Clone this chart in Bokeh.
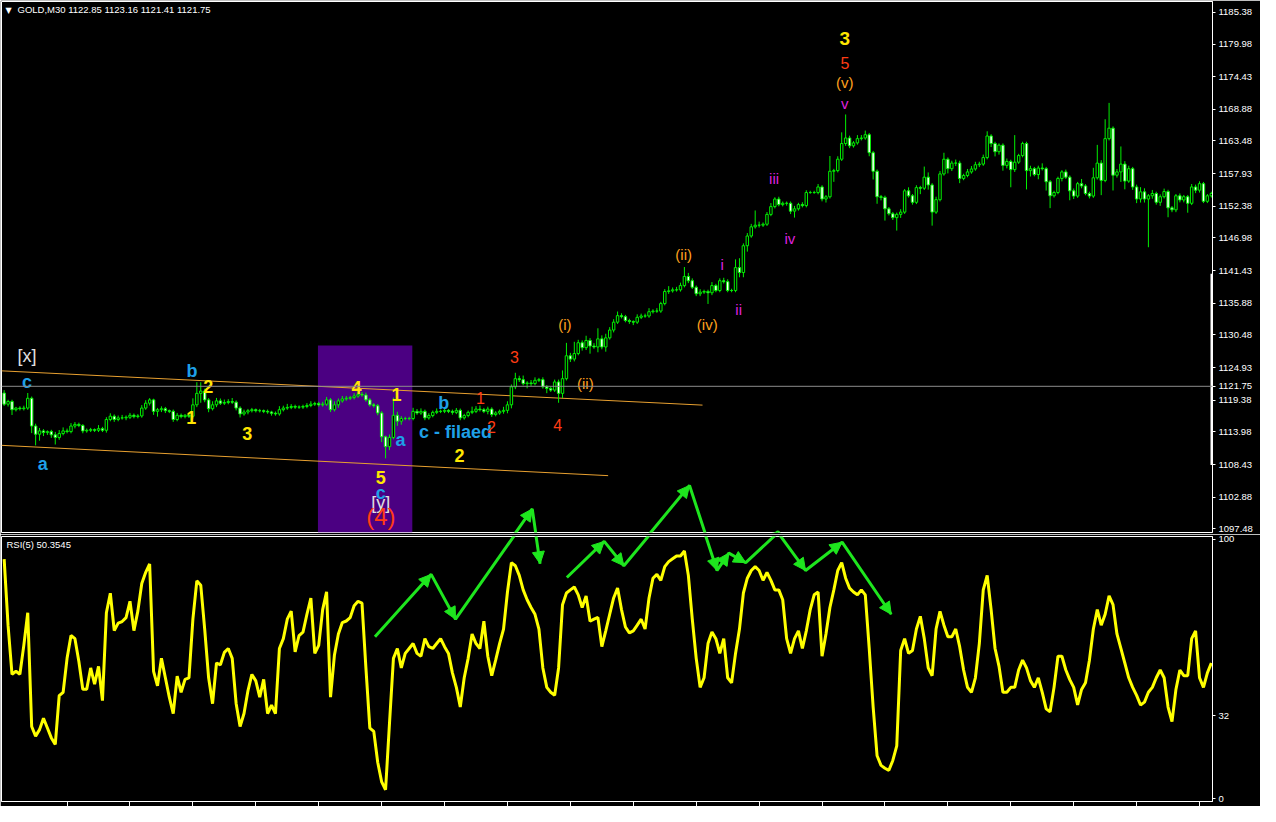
import numpy as np
from bokeh.plotting import figure
from bokeh.models import (FixedTicker, Span, Label, Arrow, NormalHead, ColumnDataSource,
                          Range1d, PrintfTickFormatter, BoxAnnotation)
from bokeh.layouts import column
from bokeh.embed import file_html
from bokeh.resources import INLINE
from bokeh.core.properties import value

# ---------------- data ----------------
title_text = "GOLD,M30  1122.85 1123.16 1121.41 1121.75"
rsi_title = "RSI(5) 50.3545"
current_price = 1121.75
first_open = 1120.60

closes = [
    1118.71, 1119.16, 1117.77, 1118.05, 1117.94, 1118.05, 1119.71, 1114.99, 1113.60, 1114.16,
    1113.88, 1114.05, 1113.49, 1113.05, 1113.71, 1114.16, 1114.05, 1114.99, 1115.27, 1115.10,
    1114.16, 1114.27, 1114.38, 1114.27, 1114.55, 1114.27, 1116.10, 1116.66, 1116.10, 1116.38,
    1116.38, 1116.49, 1116.82, 1116.60, 1116.71, 1118.05, 1118.88, 1119.44, 1117.49, 1117.77,
    1117.94, 1117.60, 1117.49, 1116.10, 1116.82, 1116.60, 1116.82, 1116.66, 1118.60, 1120.55,
    1120.94, 1119.44, 1117.94, 1118.60, 1119.27, 1118.88, 1118.99, 1119.16, 1119.05, 1118.05,
    1117.05, 1117.38, 1117.60, 1117.77, 1117.60, 1117.60, 1117.49, 1117.38, 1117.16, 1117.05,
    1117.77, 1118.05, 1118.16, 1118.32, 1118.21, 1118.21, 1118.32, 1118.49, 1118.71, 1118.82,
    1118.60, 1118.71, 1119.44, 1117.77, 1118.60, 1119.27, 1119.60, 1119.71, 1119.82, 1120.10,
    1120.38, 1120.27, 1119.44, 1118.60, 1118.44, 1117.21, 1113.16, 1111.49, 1113.05, 1116.82,
    1115.82, 1116.27, 1116.27, 1116.27, 1117.49,
    1117.21, 1117.49, 1116.38, 1116.77, 1117.32, 1117.49, 1117.49, 1117.66, 1117.49, 1117.32,
    1117.66, 1116.38, 1116.77, 1117.32, 1117.49, 1117.88, 1117.77, 1117.49, 1117.88, 1116.94,
    1117.21, 1117.49, 1117.66, 1118.60, 1121.66, 1123.05, 1122.88, 1122.21, 1122.32, 1122.21,
    1122.77, 1122.88, 1121.66, 1121.38, 1121.10, 1122.49, 1120.55, 1123.05, 1126.94, 1126.38,
    1127.32, 1129.16, 1128.32, 1129.55, 1128.60, 1128.44, 1129.82, 1128.44, 1129.99, 1131.32,
    1132.66, 1133.77, 1133.60, 1132.94, 1132.77, 1132.66, 1133.49, 1133.71, 1133.71, 1134.44,
    1134.55, 1134.55, 1135.82, 1137.88, 1137.99, 1138.16, 1138.16, 1138.88, 1140.44, 1139.71,
    1138.60, 1137.49, 1137.77, 1137.88, 1137.66, 1138.88, 1138.05, 1139.71, 1139.55, 1138.05,
    1138.05, 1141.94, 1141.10, 1145.66, 1147.32, 1148.88, 1149.16, 1149.16, 1149.32, 1150.99,
    1152.32, 1153.60, 1152.66, 1152.88, 1152.88, 1151.55, 1151.94, 1152.66, 1152.49, 1154.71,
    1154.71, 1154.71,
    1155.66, 1153.61, 1153.99, 1158.33, 1158.44, 1160.38, 1163.05, 1163.99, 1162.66, 1163.16,
    1163.88, 1163.99, 1164.55, 1161.49, 1158.33, 1154.00, 1153.88, 1151.94, 1151.11, 1150.44,
    1151.00, 1151.38, 1155.00, 1154.16, 1153.05, 1155.55, 1155.44, 1157.33, 1156.00, 1151.38,
    1153.50, 1157.88, 1160.38, 1158.77, 1159.72, 1159.72, 1157.11, 1157.61, 1158.22, 1158.72,
    1159.44, 1159.55, 1160.66, 1164.33, 1163.05, 1161.66, 1162.77, 1159.33, 1160.00, 1158.61,
    1159.88, 1161.00, 1163.05, 1158.44, 1158.77, 1157.77, 1158.88, 1158.77, 1156.55, 1154.16,
    1154.72, 1157.11, 1158.22, 1157.33, 1155.00, 1154.11, 1156.22, 1155.83, 1154.55, 1154.11,
    1157.22, 1159.72, 1156.77, 1163.88, 1165.66, 1157.66, 1158.22, 1159.55, 1156.66, 1158.77,
    1155.66, 1153.61, 1154.83, 1153.61, 1154.16, 1154.55, 1153.05, 1154.00, 1154.88, 1152.11,
    1151.77, 1154.16, 1153.44, 1154.00, 1152.88, 1155.66, 1155.11, 1156.22, 1153.22, 1154.16,
    1154.55,
]

wick_up = [
    0.5, 0.3, 0.3, 0.2, 0.3, 0.4, 0.9, 0.3, 0.4, 0.5, 0.3, 0.2, 0.3, 0.5, 0.6, 0.6, 0.4, 0.5, 0.4, 0.3,
    0.2, 0.3, 0.3, 0.2, 0.6, 0.3, 0.4, 0.5, 0.3, 0.4, 0.5, 0.3, 0.4, 0.3, 0.3, 0.5, 0.5, 0.3, 0.2, 0.3,
    0.4, 0.3, 0.2, 0.3, 0.4, 0.3, 0.2, 0.3, 1.1, 1.9, 1.5, 0.4, 0.3, 0.6, 0.5, 0.4, 0.5, 0.4, 0.6, 0.3,
    0.3, 0.4, 0.3, 0.3, 0.2, 0.3, 0.2, 0.3, 0.2, 0.3, 0.6, 0.4, 0.6, 0.4, 0.3, 0.3, 0.3, 0.4, 0.5, 0.3,
    0.3, 0.4, 0.5, 0.3, 0.6, 0.4, 0.5, 0.4, 0.3, 0.5, 0.3, 0.4, 0.4, 0.3, 0.3, 0.3, 0.3, 0.2, 0.5, 3.0,
    0.6, 0.4, 0.3, 0.3, 0.6,
    0.4, 0.5, 0.3, 0.4, 0.3, 0.5, 0.3, 0.3, 0.2, 0.3, 0.4, 0.3, 0.3, 0.3, 0.8, 0.5, 0.6, 0.3, 0.4, 0.3,
    0.3, 0.3, 0.6, 0.6, 0.4, 1.0, 0.5, 0.7, 0.3, 0.5, 0.5, 0.3, 0.4, 0.3, 0.3, 0.4, 0.4, 1.4, 2.2, 0.5,
    2.0, 0.5, 0.4, 0.8, 0.4, 0.5, 1.8, 0.6, 0.7, 0.5, 0.5, 0.7, 0.4, 0.3, 0.3, 0.2, 0.5, 0.4, 0.4, 0.6,
    0.3, 0.5, 0.3, 0.4, 0.8, 0.4, 0.5, 0.5, 1.6, 0.6, 0.4, 0.3, 0.5, 0.3, 0.3, 0.6, 0.3, 0.4, 0.5, 0.4,
    0.3, 1.4, 1.6, 0.4, 0.5, 0.5, 2.5, 0.6, 0.3, 0.4, 0.6, 0.3, 0.4, 0.3, 0.3, 0.3, 0.5, 0.3, 0.4, 0.4,
    0.3, 0.3,
    0.5, 0.3, 0.3, 2.6, 0.3, 0.5, 1.9, 4.0, 0.4, 0.3, 0.6, 0.5, 0.7, 0.3, 0.3, 0.3, 0.3, 0.3, 0.3, 0.3,
    0.3, 0.5, 0.3, 0.6, 0.3, 0.4, 0.3, 1.8, 0.8, 0.3, 0.5, 0.5, 1.1, 0.3, 0.4, 0.6, 0.4, 0.3, 0.5, 0.5,
    0.5, 0.4, 0.5, 0.8, 0.3, 0.3, 0.3, 0.3, 0.5, 0.3, 4.6, 0.3, 0.3, 0.3, 0.5, 0.3, 0.4, 0.8, 0.3, 0.3,
    0.3, 0.3, 0.3, 0.4, 0.3, 0.4, 0.3, 0.8, 0.3, 0.3, 1.7, 3.1, 0.5, 3.3, 4.3, 0.3, 0.5, 3.0, 0.5, 0.5,
    0.3, 0.4, 0.8, 0.6, 0.3, 0.6, 0.3, 0.4, 0.5, 0.3, 0.3, 0.3, 0.4, 0.3, 0.3, 0.5, 0.4, 0.4, 0.3, 0.3,
    0.3,
]

wick_dn = [
    0.3, 0.4, 0.9, 0.3, 0.3, 0.3, 0.3, 1.2, 1.9, 1.1, 0.6, 0.4, 0.5, 1.2, 0.4, 0.3, 0.3, 0.3, 0.4, 0.3,
    0.4, 0.3, 0.3, 0.3, 0.3, 0.3, 0.4, 0.3, 0.4, 0.3, 0.3, 0.4, 0.3, 0.3, 0.3, 0.3, 0.3, 0.4, 0.6, 0.9,
    0.4, 0.4, 0.3, 0.4, 0.3, 0.3, 0.3, 0.3, 0.4, 0.4, 1.6, 0.4, 0.6, 0.3, 0.4, 0.3, 0.3, 0.3, 0.3, 0.4,
    0.6, 0.3, 0.4, 0.3, 0.3, 0.3, 0.3, 0.3, 0.4, 0.3, 0.3, 0.3, 0.3, 0.3, 0.3, 0.3, 0.3, 0.3, 0.3, 0.3,
    0.3, 0.3, 0.3, 0.4, 0.3, 0.5, 0.3, 0.3, 0.3, 0.3, 0.3, 0.3, 0.3, 0.3, 0.3, 0.4, 0.9, 2.0, 0.6, 0.3,
    0.8, 0.6, 0.3, 0.3, 0.3,
    0.3, 0.3, 0.4, 0.3, 0.3, 0.3, 0.3, 0.3, 0.3, 0.4, 0.3, 0.4, 0.3, 0.3, 0.3, 0.3, 0.3, 0.3, 0.5, 0.4,
    0.3, 0.3, 0.4, 0.5, 0.6, 0.4, 0.4, 0.3, 0.8, 0.4, 0.3, 0.3, 0.3, 0.8, 0.3, 0.3, 1.6, 0.8, 0.3, 0.5,
    0.4, 0.3, 0.5, 0.4, 1.3, 0.3, 0.9, 0.4, 0.8, 0.3, 0.4, 0.3, 0.3, 0.3, 0.4, 0.5, 0.3, 0.3, 0.3, 0.3,
    0.3, 0.3, 0.3, 0.3, 0.4, 0.3, 0.3, 0.3, 0.3, 0.4, 0.3, 0.4, 0.4, 0.3, 1.9, 0.4, 0.3, 0.3, 0.3, 0.3,
    0.3, 0.3, 0.8, 0.8, 1.0, 0.3, 0.3, 0.4, 0.3, 0.3, 0.3, 0.3, 0.3, 0.3, 0.4, 0.5, 1.1, 0.3, 0.3, 0.3,
    0.2, 0.2,
    0.3, 0.4, 0.6, 0.3, 1.8, 0.3, 0.3, 0.4, 0.4, 0.3, 0.3, 0.3, 0.3, 0.6, 1.4, 1.2, 0.5, 2.0, 0.3, 0.4,
    2.2, 0.6, 0.3, 0.3, 0.4, 0.3, 1.0, 0.3, 0.8, 2.3, 0.3, 0.3, 0.3, 0.8, 0.4, 0.5, 0.8, 0.3, 0.3, 0.3,
    0.3, 0.4, 0.3, 0.3, 0.6, 0.8, 0.5, 0.9, 0.5, 3.0, 0.4, 0.3, 0.3, 3.2, 1.0, 0.3, 0.8, 0.3, 1.5, 2.1,
    0.3, 0.3, 0.5, 0.3, 1.6, 0.5, 0.3, 0.4, 0.3, 0.4, 0.3, 0.3, 2.5, 0.3, 0.3, 2.6, 0.4, 1.7, 1.4, 0.3,
    0.5, 0.7, 0.6, 0.6, 8.2, 0.5, 0.4, 0.6, 0.3, 1.6, 0.4, 0.4, 0.4, 0.4, 1.6, 0.3, 0.5, 0.4, 0.3, 0.3,
    0.3,
]

rsi = [
    92.4, 66.7, 47.9, 49.1, 47.9, 59.1, 71.7, 27.8, 24.1, 26.6,
    31.0, 27.2, 23.4, 20.9, 39.7, 41.0, 54.1, 62.9, 61.7, 52.9,
    42.2, 42.2, 50.4, 44.1, 51.0, 37.8, 71.7, 79.2, 64.8, 67.7,
    68.3, 69.8, 76.1, 64.8, 72.3, 83.0, 87.3, 90.5, 49.1, 43.5,
    54.1, 46.6, 39.1, 32.8, 47.2, 41.0, 46.0, 46.6, 69.2, 84.0,
    82.3, 65.4, 46.6, 36.6, 52.3, 51.6, 56.4, 57.9, 54.1, 36.6,
    27.8, 32.8, 41.6, 47.9, 45.4, 39.1, 46.0, 32.8, 36.0, 32.8,
    57.9, 61.7, 69.2, 72.3, 56.6, 62.9, 64.2, 71.1, 77.3, 56.0,
    59.1, 72.9, 79.8, 39.1, 55.4, 63.5, 67.9, 68.5, 69.8, 74.4,
    76.1, 75.4, 50.4, 27.2, 25.9, 14.0, 6.5, 3.4, 29.1, 54.1,
    57.9, 50.4, 56.0, 57.9, 59.8, 56.0, 54.9, 61.7, 58.6, 57.9,
    59.8, 61.7, 58.6, 56.0, 48.5, 42.9, 35.3, 46.6, 54.1, 63.5,
    59.8, 57.9, 68.4, 54.9, 47.4, 53.4, 59.8, 65.4, 79.7, 91.0,
    89.8, 86.1, 80.5, 76.7, 73.7, 71.1, 65.4, 50.4, 42.9, 41.0,
    39.8, 50.4, 74.8, 79.3, 80.5, 81.6, 78.6, 73.7, 78.2, 68.4,
    69.2, 69.9, 58.6, 64.7, 71.1, 77.4, 81.2, 72.9, 66.2, 63.9,
    64.7, 66.9, 69.2, 65.4, 77.4, 85.0, 86.5, 84.2, 89.5, 91.4,
    92.5, 93.6, 93.6, 95.5, 86.1, 69.2, 54.1, 42.9, 46.6, 59.8,
    64.3, 61.7, 56.0, 61.7, 46.6, 44.7, 56.0, 65.4, 79.3, 85.0,
    88.0, 89.5, 88.0, 84.2, 87.2, 84.2, 80.5, 80.5, 76.7, 61.7,
    56.0, 61.7, 64.7, 57.9, 64.7, 72.9, 78.6, 79.7, 54.9, 63.5,
    73.7, 80.5, 88.0, 91.0, 85.0, 81.2, 79.7, 78.6, 80.5, 78.6,
    57.9, 35.3, 16.5, 12.8, 11.7, 10.9, 14.7, 20.3, 57.1, 61.7,
    56.0, 57.1, 65.4, 70.3, 61.7, 50.4, 47.4, 65.4, 72.2, 66.9,
    62.4, 62.4, 65.4, 58.6, 49.6, 42.9, 41.0, 46.6, 59.8, 80.5,
    86.1, 72.9, 57.9, 51.1, 41.0, 41.0, 42.9, 42.9, 49.6, 53.4,
    50.4, 45.5, 42.9, 46.6, 41.0, 34.6, 33.5, 42.9, 54.9, 54.9,
    49.6, 45.9, 42.9, 36.1, 42.1, 44.7, 53.4, 65.4, 72.9, 66.9,
    71.1, 78.2, 74.8, 63.5, 57.9, 52.3, 46.6, 42.9, 39.8, 36.1,
    37.2, 41.0, 42.9, 46.6, 49.6, 46.6, 35.3, 29.7, 42.1, 49.6,
    47.4, 47.4, 61.7, 64.7, 46.6, 42.9, 48.5, 52.3,
]

price_ticks = [1185.38, 1179.98, 1174.43, 1168.88, 1163.48, 1157.93, 1152.38, 1146.98,
               1141.43, 1135.88, 1130.48, 1124.93, 1119.38, 1113.98, 1108.43, 1102.88, 1097.48]
rsi_ticks = [0, 32, 100]

# wave labels: text, bar position, price, colour, size, bold
wave_text = ["[x]", "c", "a", "b", "2", "1", "3", "4", "1", "a", "b", "c - filaed", "2",
             "5", "c", "[y]", "(4)", "3", "1", "2", "4", "(i)", "(ii)", "(ii)", "(iv)",
             "i", "ii", "iii", "iv", "v", "(v)", "5", "3"]
wave_bar = [5.8, 5.8, 9.8, 47.8, 51.9, 47.6, 61.8, 89.6, 99.8, 100.8, 111.8, 114.8, 115.8,
            95.8, 95.8, 95.8, 95.8, 129.8, 121.1, 123.9, 140.8, 142.6, 147.8, 172.8, 178.8,
            182.6, 186.8, 195.8, 199.8, 213.8, 213.8, 213.8, 213.8]
wave_price = [1126.88, 1122.55, 1108.55, 1124.38, 1121.71, 1116.38, 1113.71, 1121.55,
              1120.38, 1112.55, 1118.88, 1114.05, 1110.05, 1106.21, 1103.55, 1101.88,
              1099.55, 1126.71, 1119.71, 1114.88, 1115.21, 1132.21, 1122.21, 1144.21,
              1132.21, 1142.55, 1134.88, 1157.05, 1146.88, 1169.88, 1173.38, 1176.71, 1180.88]
CY, YE, RD, OR, MG, WH = "#1ea0e8", "#ffe600", "#ff3c14", "#ffa01e", "#dd22dd", "#e0e0e0"
wave_color = [WH, CY, CY, CY, YE, YE, YE, YE, YE, CY, CY, CY, YE,
              YE, CY, WH, RD, RD, RD, RD, RD, OR, OR, OR, OR,
              MG, MG, MG, MG, MG, OR, RD, YE]
wave_size = ["18px", "18px", "18px", "18px", "18px", "18px", "18px", "18px", "18px", "18px",
             "18px", "18px", "18px", "18px", "18px", "18px", "24px", "16px", "16px", "16px",
             "16px", "15px", "15px", "15px", "15px", "15px", "15px", "15px", "15px", "15px",
             "15px", "16px", "19px"]
wave_bold = [False, True, True, True, True, True, True, True, True, True, True, True, True,
             True, True, False, False, False, False, False, False, False, False, False, False,
             False, False, False, False, False, False, False, True]

# channel lines (bar, price)
upper_line_bar = [-0.7, 177.6]
upper_line_price = [1124.38, 1118.55]
lower_line_bar = [-0.7, 153.6]
lower_line_price = [1111.71, 1106.55]

# highlighted zone (bars, top price)
zone_left, zone_right, zone_top = 79.8, 103.8, 1128.71

# hand-drawn green arrows in (bar, RSI) units
arrow_paths = [
    ([94.3, 108.6, 114.8, 134.3, 136.3], [62.4, 86.5, 69.2, 111.3, 90.6]),
    ([143.1, 152.6, 157.6, 174.3, 181.3, 184.3, 188.6, 196.8, 203.8, 213.1, 225.6],
     [85.3, 99.2, 89.8, 120.3, 88.0, 94.7, 91.0, 102.6, 88.0, 98.9, 71.1]),
]

# ---------------- build ----------------
n = min(len(closes), len(wick_up), len(wick_dn), len(rsi))
idx = np.arange(n)
c = np.array(closes[:n])
o = np.array([first_open] + closes[:n - 1])
h = np.maximum(o, c) + np.array(wick_up[:n])
l = np.minimum(o, c) - np.array(wick_dn[:n])
fill = ["black" if cc >= oo else "white" for oo, cc in zip(o, c)]

GREEN = "#00f000"
ARROW_GREEN = "#1ee61e"
FONT = value("Liberation Sans")

W = 1260
RB = 48
X0, X1 = -0.675, 307.3
P0, P1 = 1096.88, 1187.21
R0, R1 = -1.13, 101.1


def rsi_to_price(r):
    ypx = 814 - 2.66 * r
    return 1185.38 - (ypx - 11) / 6.0


main = figure(width=W, height=534, x_range=Range1d(X0, X1), y_range=Range1d(P0, P1),
              output_backend="svg", toolbar_location=None, y_axis_location="right",
              background_fill_color="black", border_fill_color="black",
              min_border_left=1, min_border_right=RB, min_border_top=1, min_border_bottom=2)
main.xaxis.visible = False
main.grid.visible = False
main.outline_line_color = "white"
ax = main.yaxis[0]
ax.ticker = FixedTicker(ticks=sorted(price_ticks + [current_price]))
ax.formatter = PrintfTickFormatter(format="%.2f")
ax.axis_line_color = "white"
ax.major_tick_line_color = "white"
ax.major_tick_out = 3
ax.major_tick_in = 0
ax.minor_tick_line_color = None
ax.major_label_text_color = "white"
ax.major_label_text_font = "Liberation Sans"
ax.major_label_text_font_size = "9.5px"
ax.major_label_standoff = 3

main.add_layout(BoxAnnotation(left=zone_left, right=zone_right, top=zone_top,
                              fill_color="#4b0082", fill_alpha=1.0, line_alpha=0,
                              level="underlay"))

main.line(upper_line_bar, upper_line_price, line_color="#e8a030", line_width=1)
main.line(lower_line_bar, lower_line_price, line_color="#e8a030", line_width=1)
main.add_layout(Span(location=current_price, dimension="width", line_color="#8c8c8c",
                     line_width=1))

src = ColumnDataSource(dict(x=idx, o=o, c=c, h=h, l=l, fill=fill))
main.segment(x0="x", y0="h", x1="x", y1="l", source=src, line_color=GREEN, line_width=1)
main.vbar(x="x", width=0.62, top="o", bottom="c", source=src, fill_color="fill",
          line_color=GREEN, line_width=1)

# white marker on the price scale
main.segment(x0=[X1], y0=[1108.38], x1=[X1], y1=[1140.88], line_color="white", line_width=4)

groups = {}
for i, b in enumerate(wave_bold):
    groups.setdefault((wave_size[i], b), []).append(i)
for (size, b), ids in groups.items():
    s = ColumnDataSource(dict(x=[wave_bar[i] for i in ids], y=[wave_price[i] for i in ids],
                              t=[wave_text[i] for i in ids], col=[wave_color[i] for i in ids]))
    main.text(x="x", y="y", text="t", text_color="col", text_font_size=value(size),
              text_font=FONT, text_font_style="bold" if b else "normal",
              text_align="center", text_baseline="middle", source=s)

main.add_layout(Label(x=X0, y=P1, x_offset=4, y_offset=-9, text="\u25bc", text_color="white",
                      text_font_size="8px", text_font="DejaVu Sans", text_baseline="middle"))
main.add_layout(Label(x=X0, y=P1, x_offset=16, y_offset=-8, text=title_text,
                      text_color="white", text_font_size="9.5px", text_font="Liberation Sans",
                      text_baseline="middle"))

# ---- RSI panel ----
rp = figure(width=W, height=272, x_range=main.x_range, y_range=Range1d(R0, R1),
            output_backend="svg", toolbar_location=None, y_axis_location="right",
            background_fill_color="black", border_fill_color="black",
            min_border_left=1, min_border_right=RB, min_border_top=2, min_border_bottom=0)
rp.grid.visible = False
rp.outline_line_color = "white"
ry = rp.yaxis[0]
ry.ticker = FixedTicker(ticks=rsi_ticks)
ry.formatter = PrintfTickFormatter(format="%d")
ry.axis_line_color = "white"
ry.major_tick_line_color = "white"
ry.major_tick_out = 3
ry.major_tick_in = 0
ry.minor_tick_line_color = None
ry.major_label_text_color = "white"
ry.major_label_text_font = "Liberation Sans"
ry.major_label_text_font_size = "9.5px"
ry.major_label_standoff = 3
rx = rp.xaxis[0]
rx.ticker = FixedTicker(ticks=list(range(16, n, 16)))
rx.major_label_text_color = None
rx.major_label_text_font_size = "1px"
rx.major_label_standoff = 0
rx.major_tick_out = 5
rx.major_tick_in = 0
rx.minor_tick_line_color = None
rx.axis_line_color = "white"
rx.major_tick_line_color = "white"

rp.line(idx, rsi[:n], line_color="#ffff00", line_width=3)
rp.add_layout(Label(x=X0, y=R1, x_offset=5, y_offset=-8, text=rsi_title, text_color="white",
                    text_font_size="9.5px", text_font="Liberation Sans",
                    text_baseline="middle"))

# green arrows in both panels
for bars, vals in arrow_paths:
    rp.line(bars, vals, line_color=ARROW_GREEN, line_width=3)
    main.line(bars, [rsi_to_price(v) for v in vals], line_color=ARROW_GREEN, line_width=3)
    for k in range(1, len(bars)):
        if vals[k] > R1:
            target, y0, y1 = main, rsi_to_price(vals[k - 1]), rsi_to_price(vals[k])
        else:
            target, y0, y1 = rp, vals[k - 1], vals[k]
        target.add_layout(Arrow(end=NormalHead(size=12, fill_color=ARROW_GREEN,
                                               line_color=ARROW_GREEN, line_width=1),
                                x_start=bars[k - 1], y_start=y0, x_end=bars[k], y_end=y1,
                                line_alpha=0))

layout = column(main, rp)
open("out.html", "w").write(file_html(layout, INLINE))
